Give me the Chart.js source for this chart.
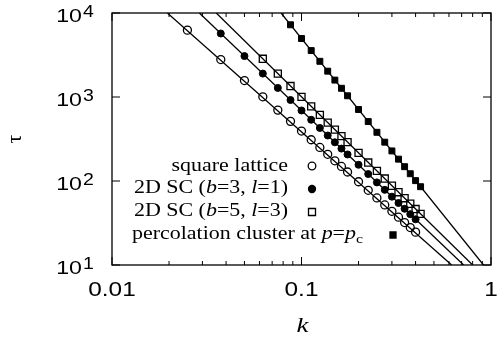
<!DOCTYPE html>
<html>
<head>
<meta charset="utf-8">
<script src="https://cdn.jsdelivr.net/npm/chart.js@4.4.0/dist/chart.umd.min.js"></script>
<style>
  html, body { margin: 0; padding: 0; background: #fff; }
</style>
</head>
<body>
<canvas id="myChart" width="500" height="351"></canvas>
<script>
// relaxation time tau against wave number k
const kSquare = [0.025, 0.0375, 0.05, 0.0625, 0.075, 0.0875, 0.1, 0.1125, 0.125, 0.1375, 0.15, 0.1625, 0.175, 0.2, 0.225, 0.25, 0.275, 0.3, 0.325, 0.35, 0.375, 0.4];
const tauSquare = [6250, 2790, 1570, 1005, 698, 513, 393, 310, 251, 208, 174, 149, 128, 98, 77.5, 62.8, 51.9, 43.6, 37.1, 32.0, 27.9, 24.6];

const kB3 = [0.0375, 0.05, 0.0625, 0.075, 0.0875, 0.1, 0.1125, 0.125, 0.1375, 0.15, 0.1625, 0.175, 0.2, 0.225, 0.25, 0.275, 0.3, 0.325, 0.35, 0.375, 0.4];
const tauB3 = [5700, 3070, 1900, 1283, 921, 691, 536, 428, 348, 289, 243, 207, 156, 121, 96.3, 78.5, 65.1, 54.7, 46.7, 40.3, 35.0];

const kB5 = [0.0625, 0.075, 0.0875, 0.1, 0.1125, 0.125, 0.1375, 0.15, 0.1625, 0.175, 0.2, 0.225, 0.25, 0.275, 0.3, 0.325, 0.35, 0.375, 0.4, 0.425];
const tauB5 = [2850, 1900, 1351, 1004, 773, 612, 496, 409, 342, 290, 216, 166, 132, 107, 87.8, 73.5, 62.4, 53.6, 46.4, 40.6];

const kPerc = [0.0875, 0.1, 0.1125, 0.125, 0.1375, 0.15, 0.1625, 0.175, 0.2, 0.225, 0.25, 0.275, 0.3, 0.325, 0.35, 0.375, 0.4, 0.425];
const tauPerc = [7240, 4970, 3570, 2660, 2030, 1590, 1270, 1034, 710, 510, 380, 290, 228, 182, 148, 122, 101, 85.5];

// power-law fits, end points
const fitSquareK = [0.0196, 0.62], fitSquareTau = [10000, 10];
const fitB3K = [0.0289, 0.717], fitB3Tau = [10000, 10];
const fitB5K = [0.0355, 0.80], fitB5Tau = [10000, 10];
const fitPercK = [0.078, 0.913], fitPercTau = [10000, 10];

// axes
const xMajor = [0.01, 0.1, 1];
const xMajorLabels = ['0.01', '0.1', '1'];
const xMinor = [0.02, 0.03, 0.04, 0.05, 0.06, 0.07, 0.08, 0.09, 0.2, 0.3, 0.4, 0.5, 0.6, 0.7, 0.8, 0.9];
const yMajor = [10, 100, 1000, 10000];
const yMajorExp = ['1', '2', '3', '4'];

// key entries: [text, style] pieces
const keySquare = [['square lattice', 'n']];
const keyB3 = [['2D SC (', 'n'], ['b', 'i'], ['=3, ', 'n'], ['l', 'i'], ['=1)', 'n']];
const keyB5 = [['2D SC (', 'n'], ['b', 'i'], ['=5, ', 'n'], ['l', 'i'], ['=3)', 'n']];
const keyPerc = [['percolation cluster at ', 'n'], ['p', 'i'], ['=', 'n'], ['p', 'i'], ['c', 's']];

const pts = (ks, ts) => ks.map((k, i) => ({ x: k, y: ts[i] }));

const SX = 1.22; // text is a bit wide in this figure

function wideText(ctx, text, x, y, align) {
    const w = ctx.measureText(text).width * SX;
    const x0 = align === 'right' ? x - w : align === 'center' ? x - w / 2 : x;
    ctx.save();
    ctx.translate(x0, y);
    ctx.scale(SX, 1);
    ctx.textAlign = 'left';
    ctx.fillText(text, 0, 0);
    ctx.restore();
    return w;
}

function keyFont(style) {
    if (style === 'i') return 'italic 18px "Liberation Serif"';
    if (style === 's') return '13px "Liberation Serif"';
    return '18px "Liberation Serif"';
}

function drawKey(ctx, pieces, x, y, align) {
    let total = 0;
    pieces.forEach(([t, s]) => { ctx.font = keyFont(s); total += ctx.measureText(t).width * SX; });
    let cx = align === 'right' ? x - total : x;
    pieces.forEach(([t, s]) => {
        ctx.font = keyFont(s);
        cx += wideText(ctx, t, cx, s === 's' ? y + 4 : y, 'left');
    });
}

function keyMark(ctx, kind, x, y) {
    ctx.beginPath();
    if (kind === 'oc' || kind === 'fc') {
        ctx.arc(x, y, kind === 'oc' ? 3.8 : 3.5, 0, Math.PI * 2);
    } else {
        const h = kind === 'os' ? 3.5 : 3;
        ctx.rect(x - h, y - h, 2 * h, 2 * h);
    }
    if (kind === 'fc' || kind === 'fs') ctx.fill();
    ctx.stroke();
}

const frame = {
    id: 'frame',
    afterDraw(chart) {
        const { ctx, chartArea: a, scales: { x, y } } = chart;
        ctx.save();
        ctx.strokeStyle = '#000';
        ctx.fillStyle = '#000';
        ctx.lineWidth = 1.3;
        ctx.strokeRect(a.left, a.top, a.right - a.left, a.bottom - a.top);

        // inward ticks on all four sides
        ctx.lineWidth = 1;
        ctx.beginPath();
        xMajor.forEach(v => {
            const px = x.getPixelForValue(v);
            ctx.moveTo(px, a.bottom); ctx.lineTo(px, a.bottom - 8);
            ctx.moveTo(px, a.top); ctx.lineTo(px, a.top + 8);
        });
        xMinor.forEach(v => {
            const px = x.getPixelForValue(v);
            ctx.moveTo(px, a.bottom); ctx.lineTo(px, a.bottom - 4);
            ctx.moveTo(px, a.top); ctx.lineTo(px, a.top + 4);
        });
        yMajor.forEach(v => {
            const py = y.getPixelForValue(v);
            ctx.moveTo(a.left, py); ctx.lineTo(a.left + 8, py);
            ctx.moveTo(a.right, py); ctx.lineTo(a.right - 8, py);
        });
        ctx.stroke();

        // tick labels
        ctx.textBaseline = 'alphabetic';
        ctx.font = '20px "Liberation Sans"';
        xMajor.forEach((v, i) => {
            wideText(ctx, xMajorLabels[i], x.getPixelForValue(v), a.bottom + 31, 'center');
        });
        yMajor.forEach((v, i) => {
            const py = y.getPixelForValue(v);
            ctx.font = '19px "Liberation Sans"';
            wideText(ctx, '10', 82, py + 8.5, 'right');
            ctx.font = '16px "Liberation Sans"';
            wideText(ctx, yMajorExp[i], 83, py + 3.5, 'left');
        });

        // axis titles
        ctx.font = 'italic 22px "Liberation Serif"';
        wideText(ctx, 'k', (a.left + a.right) / 2 + 1, 332, 'center');
        ctx.save();
        ctx.translate(21, (a.top + a.bottom) / 2);
        ctx.rotate(-Math.PI / 2);
        ctx.font = '22px "Liberation Serif"';
        ctx.textAlign = 'center';
        ctx.fillText('τ', 0, 0);
        ctx.restore();

        // key
        drawKey(ctx, keySquare, 288, 171, 'right');
        drawKey(ctx, keyB3, 288, 193, 'right');
        drawKey(ctx, keyB5, 288, 216, 'right');
        drawKey(ctx, keyPerc, 132, 239, 'left');
        ctx.lineWidth = 1.3;
        keyMark(ctx, 'oc', 312, 166);
        keyMark(ctx, 'fc', 312, 189);
        keyMark(ctx, 'os', 312, 212);
        keyMark(ctx, 'fs', 393, 235);
        ctx.restore();
    }
};

const fitLine = (ks, ts) => ({
    data: pts(ks, ts),
    showLine: true,
    borderColor: '#000',
    borderWidth: 1.3,
    pointRadius: 0,
    order: 5
});

new Chart(document.getElementById('myChart').getContext('2d'), {
    type: 'scatter',
    data: {
        datasets: [
            fitLine(fitSquareK, fitSquareTau),
            fitLine(fitB3K, fitB3Tau),
            fitLine(fitB5K, fitB5Tau),
            fitLine(fitPercK, fitPercTau),
            {
                label: 'square lattice',
                data: pts(kSquare, tauSquare),
                pointStyle: 'circle',
                pointRadius: 4,
                borderWidth: 1.3,
                borderColor: '#000',
                backgroundColor: 'rgba(0,0,0,0)',
                order: 1
            },
            {
                label: '2D SC (b=3, l=1)',
                data: pts(kB3, tauB3),
                pointStyle: 'circle',
                pointRadius: 3.5,
                borderWidth: 1,
                borderColor: '#000',
                backgroundColor: '#000',
                order: 1
            },
            {
                label: '2D SC (b=5, l=3)',
                data: pts(kB5, tauB5),
                pointStyle: 'rect',
                pointRadius: 5,
                borderWidth: 1.3,
                borderColor: '#000',
                backgroundColor: 'rgba(0,0,0,0)',
                order: 1
            },
            {
                label: 'percolation cluster at p=pc',
                data: pts(kPerc, tauPerc),
                pointStyle: 'rect',
                pointRadius: 4.2,
                borderWidth: 1,
                borderColor: '#000',
                backgroundColor: '#000',
                order: 1
            }
        ]
    },
    options: {
        responsive: false,
        animation: false,
        devicePixelRatio: 1,
        layout: { padding: { left: 112, right: 9, top: 13, bottom: 86 } },
        plugins: { legend: { display: false }, tooltip: { enabled: false } },
        scales: {
            x: { type: 'logarithmic', min: 0.01, max: 1, display: false },
            y: { type: 'logarithmic', min: 10, max: 10000, display: false }
        }
    },
    plugins: [frame]
});
</script>
</body>
</html>
